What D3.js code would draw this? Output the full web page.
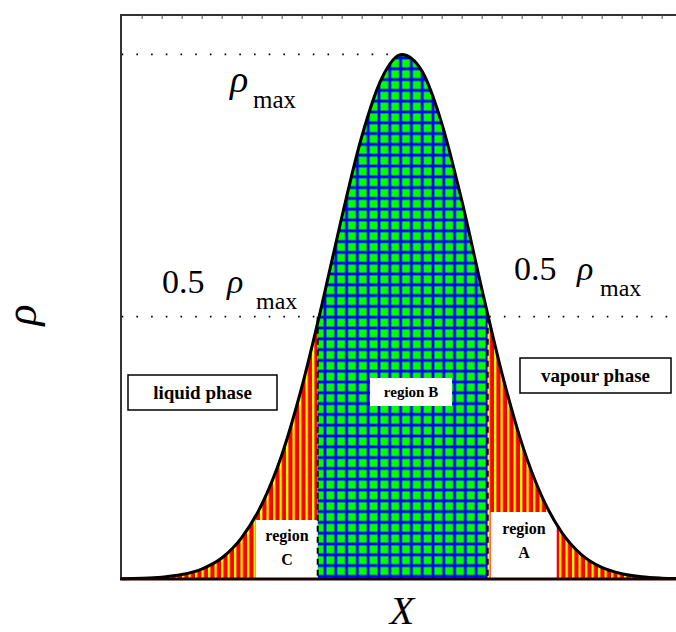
<!DOCTYPE html>
<html>
<head>
<meta charset="utf-8">
<script src="https://cdn.jsdelivr.net/npm/d3@7"></script>
<style>
  body { margin: 0; background: #fff; }
  svg text { font-family: "Liberation Serif", "DejaVu Serif", serif; }
</style>
</head>
<body>
<svg id="chart" width="676" height="632"></svg>
<script>
// Density profile across the interface
const positionX = [0, 1, 2, 3, 4, 5, 6, 7, 8, 9, 10, 11, 12, 13, 14,
                   15, 16, 17, 18, 19, 20, 21, 22, 23, 24, 25, 26, 27, 28];
const density = [0.0005, 0.0013, 0.0034, 0.0084, 0.019, 0.040, 0.079, 0.142, 0.236, 0.365,
                 0.521, 0.689, 0.843, 0.954, 0.9996, 0.969, 0.869, 0.722, 0.554, 0.394,
                 0.259, 0.158, 0.089, 0.046, 0.022, 0.010, 0.0041, 0.0016, 0.00055];
// Where the profile crosses half of its maximum
const regionEdges = [9.8, 18.3];
const referenceLevels = [1, 0.5];
const topTicks = [1, 2, 3, 4, 5, 6, 7, 8, 9, 10, 11, 12, 13, 14, 15, 16, 17, 18,
                  19, 20, 21, 22, 23, 24, 25, 26, 27];
const phaseLabels = ["liquid phase", "vapour phase"];
const regionNames = ["region C", "region B", "region A"];

const FONT = "'Liberation Serif', 'DejaVu Serif', serif";
const svg = d3.select("#chart");
const x = d3.scaleLinear().domain([0, 28]).range([121.7, 681.7]);
const y = d3.scaleLinear().domain([0, 1.075]).range([579, 15]);
const xMin = 0, xMax = 28;

const pts = positionX.map((p, i) => ({ x: p, r: density[i] }));

// Fill patterns
const defs = svg.append("defs");
const stripes = defs.append("pattern").attr("id", "stripes")
  .attr("patternUnits", "userSpaceOnUse").attr("width", 6.5).attr("height", 10);
stripes.append("rect").attr("width", 6.5).attr("height", 10).attr("fill", "#ff0000");
stripes.append("rect").attr("x", 0).attr("width", 2.3).attr("height", 10).attr("fill", "#ffff00");

const grid = defs.append("pattern").attr("id", "grid")
  .attr("patternUnits", "userSpaceOnUse").attr("width", 10.8).attr("height", 10.8)
  .attr("x", 1).attr("y", 4);
grid.append("rect").attr("width", 10.8).attr("height", 10.8).attr("fill", "#0000ff");
grid.append("rect").attr("x", 1.4).attr("y", 1.4).attr("width", 8).attr("height", 8).attr("fill", "#00ff00");

// Clip bands for the three regions
const bands = [
  { id: "clipC", x0: xMin, x1: regionEdges[0], fill: "url(#stripes)" },
  { id: "clipB", x0: regionEdges[0], x1: regionEdges[1], fill: "url(#grid)" },
  { id: "clipA", x0: regionEdges[1], x1: xMax, fill: "url(#stripes)" }
];
bands.forEach(b => {
  defs.append("clipPath").attr("id", b.id).append("rect")
    .attr("x", x(b.x0)).attr("y", 0)
    .attr("width", x(b.x1) - x(b.x0)).attr("height", 632);
});

// Dotted reference levels
svg.append("line")
  .attr("x1", x(xMin)).attr("x2", x(14))
  .attr("y1", y(referenceLevels[0])).attr("y2", y(referenceLevels[0]))
  .attr("stroke", "#000").attr("stroke-width", 1.6).attr("stroke-dasharray", "1.6 13.1");
svg.append("line")
  .attr("x1", x(xMin)).attr("x2", 676)
  .attr("y1", y(referenceLevels[1])).attr("y2", y(referenceLevels[1]))
  .attr("stroke", "#000").attr("stroke-width", 1.6).attr("stroke-dasharray", "1.6 13.1");

// Filled regions under the profile
const area = d3.area().x(d => x(d.x)).y0(y(0)).y1(d => y(d.r)).curve(d3.curveMonotoneX);
bands.forEach(b => {
  svg.append("path").datum(pts)
    .attr("d", area)
    .attr("fill", b.fill)
    .attr("clip-path", `url(#${b.id})`);
});

// White label boxes inside regions
svg.append("rect").attr("x", 256).attr("y", 520).attr("width", x(regionEdges[0]) - 256).attr("height", 58).attr("fill", "#fff");
svg.append("rect").attr("x", x(regionEdges[1]) + 3).attr("y", 512).attr("width", 66).attr("height", 66).attr("fill", "#fff");
svg.append("rect").attr("x", 370).attr("y", 378).attr("width", 82).attr("height", 28).attr("fill", "#fff");

// Dashed boundaries at half maximum
regionEdges.forEach(e => {
  svg.append("line")
    .attr("x1", x(e)).attr("x2", x(e))
    .attr("y1", y(0.5)).attr("y2", y(0))
    .attr("stroke", "#000").attr("stroke-width", 2).attr("stroke-dasharray", "6 5");
});

// Profile curve
const line = d3.line().x(d => x(d.x)).y(d => y(d.r)).curve(d3.curveMonotoneX);
svg.append("path").datum(pts).attr("d", line)
  .attr("fill", "none").attr("stroke", "#000").attr("stroke-width", 3);

// Frame and top minor ticks
svg.append("line").attr("x1", 121).attr("x2", 121).attr("y1", 15).attr("y2", 580)
  .attr("stroke", "#333").attr("stroke-width", 2);
svg.append("line").attr("x1", 120).attr("x2", 676).attr("y1", 15).attr("y2", 15)
  .attr("stroke", "#333").attr("stroke-width", 2);
svg.append("g").attr("transform", "translate(0,15)")
  .call(d3.axisTop(x).tickValues(topTicks).tickSize(-4).tickFormat(""))
  .call(g => g.select(".domain").remove())
  .call(g => g.selectAll("line").attr("stroke", "#555").attr("stroke-width", 1));
svg.append("line").attr("x1", 120).attr("x2", 676).attr("y1", 579).attr("y2", 579)
  .attr("stroke", "#1a0000").attr("stroke-width", 3);

// Level labels
function rhoLabel(xs, yb, size, subSize, prefix) {
  const t = svg.append("text").attr("y", yb).attr("fill", "#000").attr("font-family", FONT);
  if (prefix) t.append("tspan").attr("x", xs[0]).attr("font-size", size).text(prefix);
  t.append("tspan").attr("x", xs[1]).attr("y", yb).attr("font-size", size).attr("font-style", "italic").text("ρ");
  t.append("tspan").attr("x", xs[2]).attr("y", yb + 16).attr("font-size", subSize).text("max");
}
rhoLabel([0, 230, 253], 92, 38, 25, null);
rhoLabel([162, 227, 256], 293, 34, 24, "0.5");
rhoLabel([514, 577, 600], 280, 34, 24, "0.5");

// Phase labels in bordered boxes
const phaseBoxes = [
  { x: 128, y: 375, w: 149, h: 35 },
  { x: 520, y: 358, w: 151, h: 35 }
];
phaseLabels.forEach((lab, i) => {
  const b = phaseBoxes[i];
  svg.append("rect").attr("x", b.x).attr("y", b.y).attr("width", b.w).attr("height", b.h)
    .attr("fill", "#fff").attr("stroke", "#000").attr("stroke-width", 1.5);
  svg.append("text").attr("x", b.x + b.w / 2).attr("y", b.y + b.h / 2 + 6)
    .attr("font-family", FONT)
    .attr("text-anchor", "middle").attr("font-size", 19).attr("font-weight", "bold").text(lab);
});

// Region labels
function regionLabel(name, cx, cy, twoLines) {
  const parts = name.split(" ");
  const t = svg.append("text").attr("text-anchor", "middle").attr("font-family", FONT)
    .attr("font-weight", "bold").attr("font-size", 16);
  if (twoLines) {
    t.append("tspan").attr("x", cx).attr("y", cy).text(parts[0]);
    t.append("tspan").attr("x", cx).attr("y", cy + 24).text(parts[1]);
  } else {
    t.attr("x", cx).attr("y", cy).attr("font-size", 15).text(name);
  }
}
regionLabel(regionNames[0], 287, 541, true);
regionLabel(regionNames[1], 411, 397, false);
regionLabel(regionNames[2], 524, 534, true);

// Axis titles
svg.append("text").attr("x", 402).attr("y", 624).attr("text-anchor", "middle").attr("font-family", FONT)
  .attr("font-size", 40).attr("font-style", "italic").text("X");
svg.append("text").attr("transform", "translate(36,315) rotate(-90)").attr("text-anchor", "middle")
  .attr("font-family", FONT).attr("font-size", 44).attr("font-style", "italic").text("ρ");
</script>
</body>
</html>
